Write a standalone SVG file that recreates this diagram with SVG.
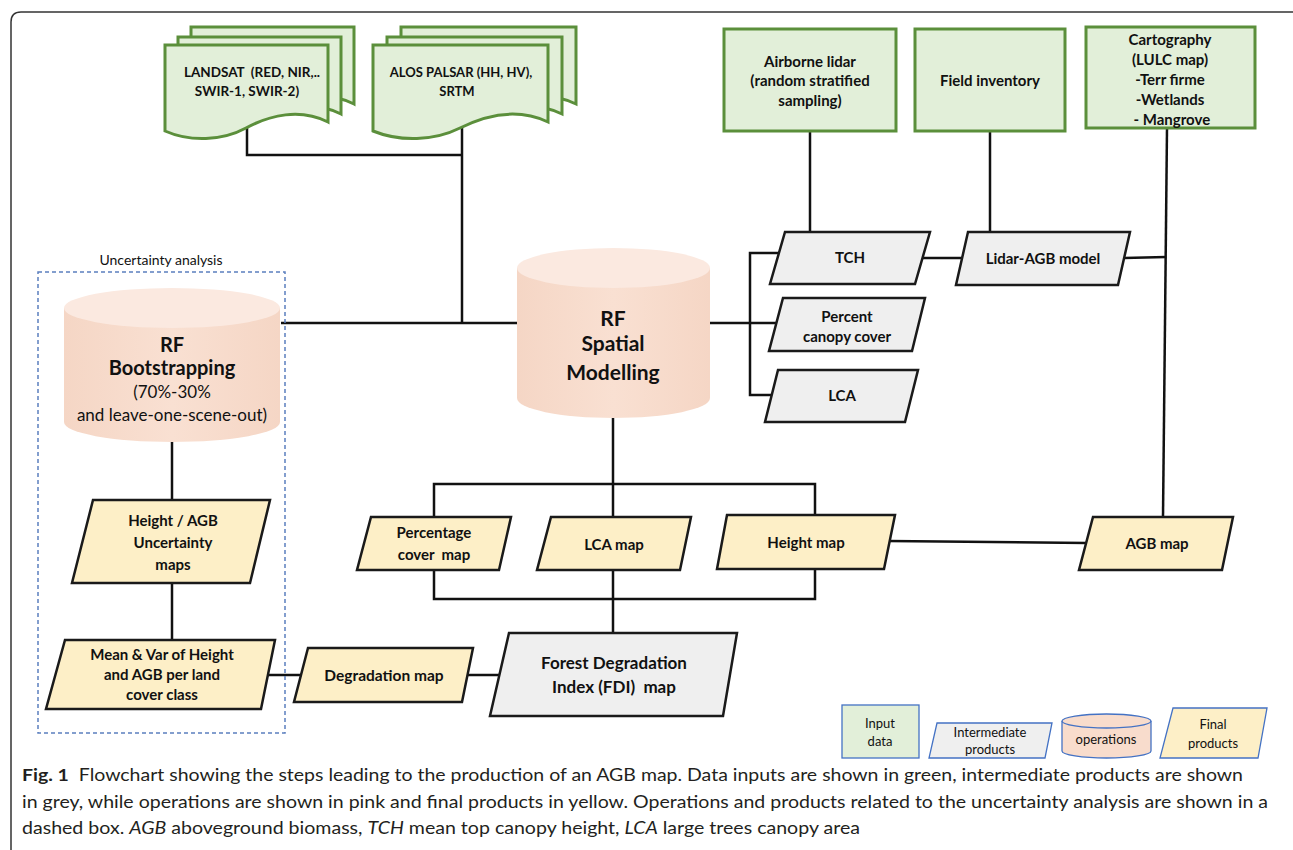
<svg xmlns="http://www.w3.org/2000/svg" width="1293" height="850" viewBox="0 0 1293 850">
<defs>
<style>
.t{font-family:Lato,"Liberation Sans",sans-serif;fill:#111;text-anchor:middle}
.b{font-weight:bold;font-size:15px}
.green{fill:#e2efd9;stroke:#5b8f3b;stroke-width:3}
.grey{fill:#efefef;stroke:#1a1a1a;stroke-width:2.5;stroke-linejoin:miter}
.yellow{fill:#fdefc7;stroke:#1a1a1a;stroke-width:2.5}
.conn{fill:none;stroke:#111;stroke-width:2.5}
.lg{stroke:#4472c4;stroke-width:1.3}
.cap{font-family:Lato,"Liberation Sans",sans-serif;font-size:17px;fill:#231f20}
</style>
<linearGradient id="cylBody" x1="0" y1="0" x2="1" y2="0">
<stop offset="0" stop-color="#f5d6c5"/>
<stop offset="0.5" stop-color="#f9e0d2"/>
<stop offset="1" stop-color="#f5d6c5"/>
</linearGradient>
<path id="docL" d="M165,45 H328 V122 C300,108 270,115 246,128 C222,141 190,142 165,131 Z"/>
<path id="docA" d="M373,45 H548 V122 C518,108 486,115 460,128 C434,141 400,142 373,131 Z"/>
</defs>
<rect width="1293" height="850" fill="#fff"/>
<path d="M11,850 V22 Q11,12 21,12 H1293" fill="none" stroke="#333" stroke-width="1.5"/>

<g id="connectors">
<polyline class="conn" points="247,128 247,155 462,155"/>
<line class="conn" x1="462" y1="127" x2="462" y2="323"/>
<line class="conn" x1="281" y1="323" x2="517" y2="323"/>
<line class="conn" x1="710" y1="323" x2="776" y2="323"/>
<polyline class="conn" points="780,253 750,253 750,395 771,395"/>
<line class="conn" x1="810" y1="131" x2="810" y2="232"/>
<line class="conn" x1="990" y1="131" x2="990" y2="232"/>
<line class="conn" x1="923" y1="258" x2="962" y2="258"/>
<line class="conn" x1="1124" y1="258" x2="1166" y2="257"/>
<line class="conn" x1="1167" y1="128" x2="1163" y2="517"/>
<line class="conn" x1="613" y1="418" x2="613" y2="517"/>
<polyline class="conn" points="434,517 434,484 815,484 815,515"/>
<polyline class="conn" points="434,570 434,599 815,599 815,569"/>
<line class="conn" x1="613" y1="570" x2="613" y2="633"/>
<line class="conn" x1="888" y1="541" x2="1087" y2="543"/>
<line class="conn" x1="172" y1="442" x2="172" y2="500"/>
<line class="conn" x1="172" y1="583" x2="172" y2="640"/>
<line class="conn" x1="268" y1="675" x2="302" y2="675"/>
<line class="conn" x1="467" y1="675" x2="502" y2="675"/>
</g>

<g id="uncertainty-box">
<rect x="38" y="272" width="247" height="461" fill="none" stroke="#5b7fbf" stroke-width="1.5" stroke-dasharray="4,3"/>
<text class="t" x="161" y="265" font-size="14">Uncertainty analysis</text>
</g>

<g id="landsat">
<use href="#docL" class="green" transform="translate(26,-18)"/>
<use href="#docL" class="green" transform="translate(13,-8)"/>
<use href="#docL" class="green"/>
<text class="t b" x="252" y="77" style="font-size:13.5px" xml:space="preserve">LANDSAT  (RED, NIR,..</text>
<text class="t b" x="247" y="96" style="font-size:13.5px">SWIR-1, SWIR-2)</text>
</g>

<g id="alos">
<use href="#docA" class="green" transform="translate(28,-18)"/>
<use href="#docA" class="green" transform="translate(14,-8)"/>
<use href="#docA" class="green"/>
<text class="t b" x="461" y="77" style="font-size:13px">ALOS PALSAR (HH, HV),</text>
<text class="t b" x="457" y="96" style="font-size:13px">SRTM</text>
</g>

<g id="airborne-lidar">
<rect class="green" x="724" y="29" width="172" height="102"/>
<text class="t b" x="810" y="67">Airborne lidar</text>
<text class="t b" x="810" y="86">(random stratified</text>
<text class="t b" x="810" y="106">sampling)</text>
</g>

<g id="field-inventory">
<rect class="green" x="915" y="29" width="150" height="102"/>
<text class="t b" x="990" y="86">Field inventory</text>
</g>

<g id="cartography">
<rect class="green" x="1086" y="27" width="169" height="101"/>
<text class="t b" x="1170" y="45">Cartography</text>
<text class="t b" x="1170" y="65">(LULC map)</text>
<text class="t b" x="1170" y="85">-Terr firme</text>
<text class="t b" x="1170" y="105">-Wetlands</text>
<text class="t b" x="1170" y="125" xml:space="preserve"> - Mangrove</text>
</g>

<g id="rf-spatial">
<path d="M517,268 V398 A96.5,20 0 0 0 710,398 V268 Z" fill="url(#cylBody)"/>
<ellipse cx="613.5" cy="268" rx="96.5" ry="20" fill="#fbe9e0"/>
<text class="t" x="613" y="326" font-size="21" font-weight="bold">RF</text>
<text class="t" x="613" y="351" font-size="21" font-weight="bold">Spatial</text>
<text class="t" x="613" y="380" font-size="21" font-weight="bold">Modelling</text>
</g>

<g id="rf-bootstrapping">
<path d="M64,308 V422 A108,20 0 0 0 280,422 V308 Z" fill="url(#cylBody)"/>
<ellipse cx="172" cy="308" rx="108" ry="20" fill="#fbe9e0"/>
<text class="t" x="172" y="352" font-size="20" font-weight="bold">RF</text>
<text class="t" x="172" y="375" font-size="20" font-weight="bold">Bootstrapping</text>
<text class="t" x="172" y="398" font-size="17">(70%-30%</text>
<text class="t" x="172" y="421" font-size="17">and leave-one-scene-out)</text>
</g>

<g id="tch">
<polygon class="grey" points="785,232 930,232 915,284 770,284"/>
<text class="t b" x="850" y="263">TCH</text>
</g>

<g id="percent-canopy">
<polygon class="grey" points="783,298 925,298 912,351 769,351"/>
<text class="t b" x="847" y="322">Percent</text>
<text class="t b" x="847" y="342">canopy cover</text>
</g>

<g id="lca">
<polygon class="grey" points="778,370 918,370 905,422 765,422"/>
<text class="t b" x="842" y="401">LCA</text>
</g>

<g id="lidar-agb">
<polygon class="grey" points="968,232 1130,232 1118,285 956,285"/>
<text class="t b" x="1043" y="264">Lidar-AGB model</text>
</g>

<g id="percentage-cover-map">
<polygon class="yellow" points="371,517 511,517 499,570 357,570"/>
<text class="t b" x="434" y="538">Percentage</text>
<text class="t b" x="434" y="560" xml:space="preserve">cover  map</text>
</g>

<g id="lca-map">
<polygon class="yellow" points="551,517 691,517 680,570 537,570"/>
<text class="t b" x="614" y="550">LCA map</text>
</g>

<g id="height-map">
<polygon class="yellow" points="727,515 895,515 884,569 717,569"/>
<text class="t b" x="806" y="548">Height map</text>
</g>

<g id="agb-map">
<polygon class="yellow" points="1093,517 1233,517 1222,570 1079,570"/>
<text class="t b" x="1157" y="549">AGB map</text>
</g>

<g id="uncertainty-maps">
<polygon class="yellow" points="93,500 270,500 250,583 72,583"/>
<text class="t b" x="173" y="526">Height / AGB</text>
<text class="t b" x="173" y="548">Uncertainty</text>
<text class="t b" x="173" y="570">maps</text>
</g>

<g id="mean-var">
<polygon class="yellow" points="65,640 275,640 261,709 46,709"/>
<text class="t b" x="162" y="660">Mean &amp; Var of Height</text>
<text class="t b" x="162" y="680">and AGB per land</text>
<text class="t b" x="162" y="700">cover class</text>
</g>

<g id="degradation-map">
<polygon class="yellow" points="308,648 473,648 462,702 294,702"/>
<text class="t b" x="384" y="681" style="font-size:15.5px">Degradation map</text>
</g>

<g id="fdi">
<polygon class="grey" points="509,633 737,633 723,716 490,716"/>
<text class="t b" x="614" y="669" style="font-size:17px">Forest Degradation</text>
<text class="t b" x="614" y="693" style="font-size:17px" xml:space="preserve">Index (FDI)  map</text>
</g>

<g id="legend">
<rect class="lg" x="842" y="705" width="77" height="53" fill="#e2efd9"/>
<text class="t" x="880" y="728" font-size="13">Input</text>
<text class="t" x="880" y="746" font-size="13">data</text>
<polygon class="lg" points="937,723 1052,723 1045,758 929,758" fill="#efefef"/>
<text class="t" x="990" y="737" font-size="13">Intermediate</text>
<text class="t" x="990" y="754" font-size="13">products</text>
<path class="lg" d="M1062,721 V751 A44.5,7 0 0 0 1151,751 V721" fill="#f8dccc"/>
<ellipse class="lg" cx="1106.5" cy="721" rx="44.5" ry="7" fill="#f8dccc"/>
<text class="t" x="1106" y="744" font-size="13">operations</text>
<polygon class="lg" points="1173,708 1267,708 1258,758 1160,758" fill="#fdefc7"/>
<text class="t" x="1213" y="729" font-size="13">Final</text>
<text class="t" x="1213" y="748" font-size="13">products</text>
</g>

<g id="caption">
<text class="cap" x="22" y="781" textLength="1221" lengthAdjust="spacingAndGlyphs" xml:space="preserve"><tspan font-weight="bold">Fig. 1</tspan>  Flowchart showing the steps leading to the production of an AGB map. Data inputs are shown in green, intermediate products are shown</text>
<text class="cap" x="22" y="808" textLength="1246" lengthAdjust="spacingAndGlyphs">in grey, while operations are shown in pink and final products in yellow. Operations and products related to the uncertainty analysis are shown in a</text>
<text class="cap" x="22" y="834" textLength="838" lengthAdjust="spacingAndGlyphs">dashed box. <tspan font-style="italic">AGB</tspan> aboveground biomass, <tspan font-style="italic">TCH</tspan> mean top canopy height, <tspan font-style="italic">LCA</tspan> large trees canopy area</text>
</g>
</svg>
